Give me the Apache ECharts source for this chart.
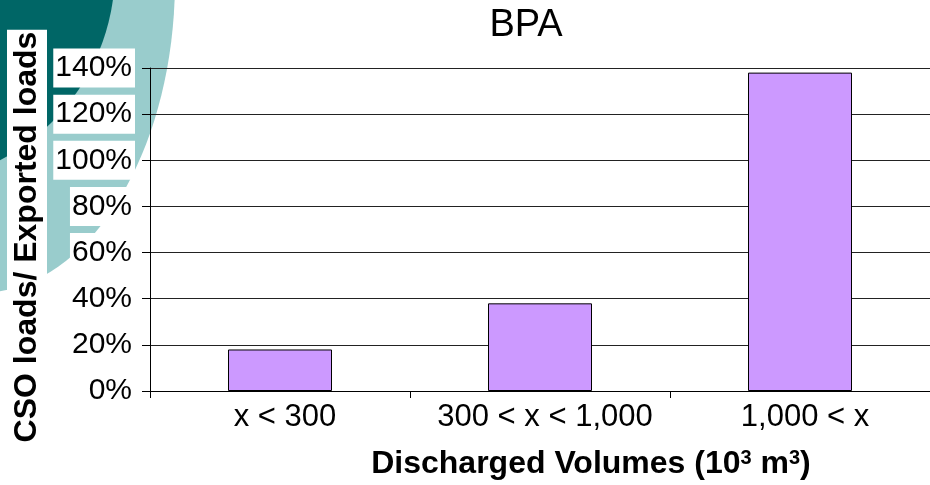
<!DOCTYPE html>
<html>
<head>
<meta charset="utf-8">
<script src="https://cdn.jsdelivr.net/npm/echarts@6/dist/echarts.min.js"></script>
<style>html,body{margin:0;padding:0;background:#fff}#c{width:930px;height:485px}</style>
</head>
<body>
<div id="c"></div>
<script>
var categories = ['x < 300', '300 < x < 1,000', '1,000 < x'];
var values = [18, 38, 138];
var yTicks = { min: 0, max: 140, interval: 20 };
var titleText = 'BPA';
var yName = 'CSO loads/ Exported loads';

var chart = echarts.init(document.getElementById('c'), null, { renderer: 'canvas' });
var F = 'Liberation Sans, Arial, sans-serif';
chart.setOption({
  backgroundColor: '#fff',
  animation: false,
  title: {
    text: titleText, left: 521, top: 2, textAlign: 'center',
    textStyle: { fontFamily: F, fontSize: 38, fontWeight: 'normal', color: '#000' }
  },
  graphic: [
    { type: 'ellipse', z: -10, silent: true, shape: { cx: -20, cy: -20, rx: 195, ry: 313 }, style: { fill: '#99CCCC' } },
    { type: 'circle', z: -9, silent: true, shape: { cx: -100, cy: -30, r: 215 }, style: { fill: '#006666' } },
    { type: 'text', z: 5, x: 27, y: 237, rotation: Math.PI / 2,
      style: { text: yName, font: 'bold 32px ' + F, fill: '#000', align: 'center', verticalAlign: 'middle',
               backgroundColor: '#fff', padding: [5, 2, 3, 2] } }
  ],
  grid: { left: 150, top: 68, width: 785, height: 323 },
  xAxis: {
    type: 'category', data: categories,
    axisLine: { lineStyle: { color: '#000', width: 1 } },
    axisTick: { show: true, length: 7, lineStyle: { color: '#000' } },
    axisLabel: { interval: 0, fontFamily: F, fontSize: 31, color: '#000', margin: 11, padding: [0, 0, 0, 10] },
    name: 'Discharged Volumes (10{s|3} m{s|3})',
    nameLocation: 'middle', nameGap: 57,
    nameTextStyle: {
      fontFamily: F, fontSize: 32, fontWeight: 'bold', color: '#000', padding: [0, 0, 0, 102],
      rich: { s: { fontFamily: F, fontSize: 20, fontWeight: 'bold', color: '#000', verticalAlign: 'top', lineHeight: 20 } }
    }
  },
  yAxis: {
    type: 'value', min: yTicks.min, max: yTicks.max, interval: yTicks.interval,
    axisLine: { show: true, lineStyle: { color: '#000', width: 1 } },
    axisTick: { show: true, length: 8, lineStyle: { color: '#000' } },
    splitLine: { show: true, lineStyle: { color: '#222', width: 1 } },
    axisLabel: { formatter: '{value}%', fontFamily: F, fontSize: 30, color: '#000', margin: 15,
                 backgroundColor: '#fff', padding: [5, 3, 4, 2] }
  },
  series: [{
    type: 'bar', data: values, barWidth: 104,
    itemStyle: { color: '#CC99FF', borderColor: '#000', borderWidth: 1 }
  }]
});
</script>
</body>
</html>
